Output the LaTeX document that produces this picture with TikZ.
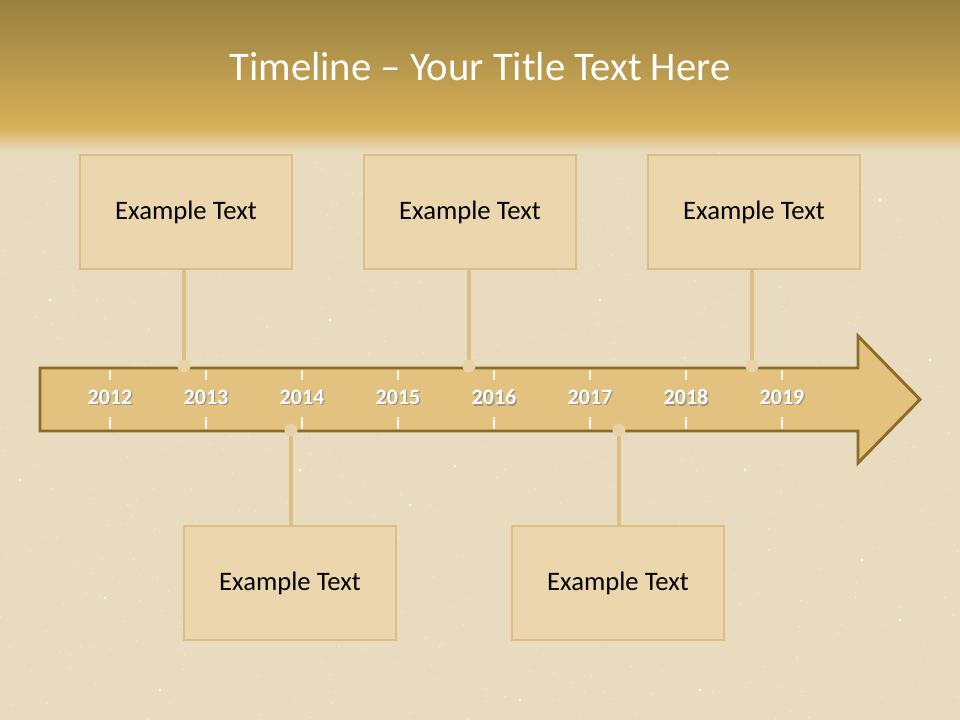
\documentclass[tikz,border=0pt]{standalone}
\usepackage{fontspec}
\setmainfont{Carlito}
\usetikzlibrary{calc}
\definecolor{bgbeige}{HTML}{E8DBBF}
\definecolor{bandtop}{HTML}{98803F}
\definecolor{bandbot}{HTML}{D6B05A}
\definecolor{boxfill}{HTML}{ECD6AE}
\definecolor{boxline}{HTML}{DCC083}
\definecolor{arrowfill}{HTML}{E2C27E}
\definecolor{arrowline}{HTML}{8C6D28}
\definecolor{dotfill}{HTML}{E8D3A8}
\tikzset{
  x=0.75pt, y=-0.75pt,
  infobox/.style={draw=boxline, line width=1.6pt, fill=boxfill, minimum width=159pt, minimum height=85.5pt, inner sep=0pt, font=\fontsize{20}{22}\selectfont, text=black},
  link/.style={draw=boxline, line width=2.8pt},
  pin/.style={circle, fill=dotfill, draw=none, minimum size=9.5pt, inner sep=0pt},
  yearlbl/.style={font=\fontsize{16.5}{18}\selectfont\bfseries, text=white},
  yearshadow/.style={font=\fontsize{16.5}{18}\selectfont\bfseries, text=black!50, opacity=0.7},
  tick/.style={draw=white!90!arrowfill, line width=0.8pt}
}
\begin{document}
\begin{tikzpicture}
\useasboundingbox (0,0) rectangle (960,720);
% background
\fill[bgbeige] (0,0) rectangle (960,720);
\pgfmathsetseed{7}
\foreach \k in {1,...,500}{
  \pgfmathsetmacro{\px}{rnd*960}
  \pgfmathsetmacro{\py}{140+rnd*580}
  \fill[white, opacity=0.35] (\px,\py) circle (0.9);
}
\foreach \px/\py in {105/598, 455/466, 745/470, 862/560, 300/470, 640/390, 520/700, 900/620, 50/300, 330/320, 600/300, 880/200, 20/480, 700/690, 160/690, 410/505, 930/360}{
  \fill[white, opacity=0.75] (\px,\py) circle (1.6);
}
\shade[top color=bandtop, bottom color=bandbot] (0,0) rectangle (960,128);
\shade[top color=bandbot, bottom color=bgbeige] (0,127) rectangle (960,152);
% title
\node[text=white, font=\fontsize{30.5}{34}\selectfont] (title) at (480,67) {Timeline – Your Title Text Here};
% arrow
\draw[fill=arrowfill, draw=arrowline, line width=2.2pt, line join=miter]
  (40,368) -- (858,368) -- (858,336) -- (920,399.5) -- (858,463) -- (858,431) -- (40,431) -- cycle;
% ticks and years
\foreach \yr [count=\i from 0] in {2012,2013,2014,2015,2016,2017,2018,2019}{
  \pgfmathsetmacro{\xx}{110+96*\i}
  \draw[tick] (\xx,370) -- (\xx,380);
  \draw[tick] (\xx,417) -- (\xx,429);
  \node[yearshadow] at (\xx+1.3,398.8) {\yr};
  \node[yearlbl] (y\yr) at (\xx,397) {\yr};
}
% boxes
\node[infobox] (b1) at (186,212) {Example Text};
\node[infobox] (b2) at (470,212) {Example Text};
\node[infobox] (b3) at (754,212) {Example Text};
\node[infobox] (b4) at (290,583) {Example Text};
\node[infobox] (b5) at (618,583) {Example Text};
% pins
\node[pin] (p1) at (184,366) {};
\node[pin] (p2) at (469,366) {};
\node[pin] (p3) at (752,366) {};
\node[pin] (p4) at (291,430) {};
\node[pin] (p5) at (619,430) {};
% links
\draw[link] (b1.south -| p1) -- (p1.center);
\draw[link] (b2.south -| p2) -- (p2.center);
\draw[link] (b3.south -| p3) -- (p3.center);
\draw[link] (p4.center) -- (b4.north -| p4);
\draw[link] (p5.center) -- (b5.north -| p5);
\node[pin] at (p1) {};
\node[pin] at (p2) {};
\node[pin] at (p3) {};
\node[pin] at (p4) {};
\node[pin] at (p5) {};
\end{tikzpicture}
\end{document}
